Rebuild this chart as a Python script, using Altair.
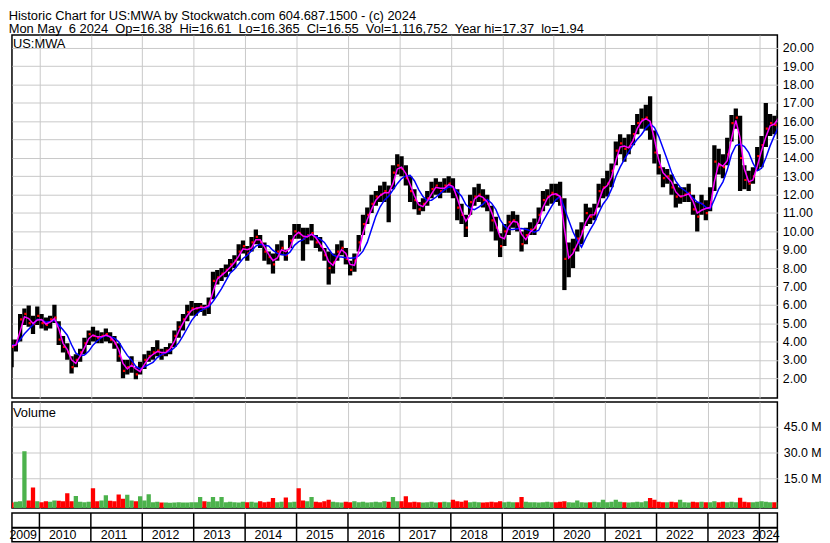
import altair as alt
import pandas as pd

FONT = "Liberation Sans"
HEADER = [
    "Historic Chart for US:MWA by Stockwatch.com 604.687.1500 - (c) 2024",
    "Mon May  6 2024  Op=16.38  Hi=16.61  Lo=16.365  Cl=16.55  Vol=1,116,752  Year hi=17.37  lo=1.94",
]
SYMBOL = "US:MWA"
VOLUME_TITLE = "Volume"
YEAR_LABELS = list(range(2009, 2025))
PRICE_TICKS = list(range(2, 21))
VOLUME_TICKS = [15, 30, 45]
X_DOMAIN = [2009.466, 2024.35]
PRICE_DOMAIN = [0.92, 20.70]
VOLUME_DOMAIN = [-2.4, 59.7]
START_YEAR, START_MONTH = 2009, 4

# monthly low / high / close (Apr 2009 .. May 2024)
LOW = [
    3.4, 3.5, 2.6, 3.45, 4.0, 4.9, 4.8, 4.4, 4.9,
    4.7, 4.6, 4.7, 5.0, 3.8, 3.4, 3.0, 2.25, 2.6, 2.9, 3.3, 3.8,
    4.0, 3.9, 3.9, 4.0, 3.9, 3.6, 2.9, 2.0, 2.2, 2.3, 1.94, 2.2,
    2.5, 2.9, 3.0, 3.2, 3.0, 3.2, 3.3, 3.7, 4.2, 4.6, 5.1, 5.4,
    5.4, 5.6, 5.4, 5.5, 6.3, 7.1, 7.3, 7.5, 7.8, 8.0, 8.4, 8.8,
    8.4, 8.9, 9.3, 9.1, 8.4, 8.2, 7.7, 8.4, 8.7, 8.4, 9.1, 9.6,
    9.6, 8.4, 9.3, 9.5, 9.1, 8.9, 8.4, 7.1, 7.7, 8.4, 8.7, 8.2,
    7.6, 7.8, 8.9, 9.8, 10.4, 11.0, 11.4, 11.6, 11.6, 10.5, 12.3, 13.1,
    13.0, 12.5, 11.6, 11.2, 10.9, 11.1, 11.4, 11.8, 12.0, 11.8, 12.1, 12.1,
    11.8, 10.6, 10.4, 9.7, 10.9, 11.4, 11.6, 11.3, 11.1, 10.0, 9.5, 8.6,
    9.2, 9.8, 10.2, 10.0, 8.9, 9.3, 9.8, 9.8, 10.4, 11.1, 11.4, 11.5,
    11.6, 11.4, 6.8, 7.5, 8.0, 8.9, 9.3, 10.3, 10.4, 10.6, 11.3, 11.8,
    11.9, 12.4, 13.6, 14.2, 13.8, 14.2, 14.7, 15.3, 15.6, 15.5, 15.0, 13.7,
    13.1, 12.4, 12.6, 12.0, 11.3, 11.5, 11.6, 11.6, 10.9, 10.0, 10.9, 10.6,
    11.1, 12.2, 13.1, 12.9, 13.6, 14.9, 15.6, 12.2, 12.3, 12.2, 12.6, 13.3,
    13.5, 14.6, 15.2, 15.3, 15.9,
]
HIGH = [
    4.3, 4.2, 4.1, 4.1, 5.5, 5.8, 5.96, 5.4, 5.9,
    5.5, 5.3, 5.4, 6.0, 5.1, 4.3, 3.9, 3.2, 3.3, 3.6, 4.2, 4.6,
    4.8, 4.6, 4.5, 4.7, 4.5, 4.3, 3.9, 3.0, 3.0, 3.2, 2.6, 2.9,
    3.3, 3.5, 3.7, 4.07, 3.6, 3.7, 3.9, 4.6, 5.1, 5.5, 6.0, 6.2,
    6.1, 6.1, 6.0, 6.4, 7.8, 7.9, 8.0, 8.2, 8.5, 8.7, 9.3, 9.5,
    9.2, 9.7, 10.1, 9.8, 9.4, 8.9, 8.8, 9.3, 9.5, 9.0, 9.8, 10.4,
    10.4, 10.2, 10.2, 10.4, 9.8, 9.7, 9.1, 8.9, 8.8, 9.3, 9.5, 9.1,
    8.4, 8.8, 9.8, 10.9, 11.3, 12.0, 12.2, 12.5, 12.7, 12.5, 13.6, 14.2,
    14.1, 13.6, 13.0, 12.3, 11.6, 11.8, 12.2, 12.7, 12.9, 12.7, 12.9, 13.0,
    12.9, 12.3, 11.5, 10.9, 12.0, 12.4, 12.6, 12.3, 12.0, 11.4, 10.8, 9.9,
    10.4, 10.9, 11.1, 10.9, 10.0, 10.2, 10.5, 10.7, 11.3, 12.2, 12.3, 12.6,
    12.6, 12.7, 11.8, 9.4, 9.6, 10.1, 10.5, 11.5, 11.3, 11.5, 12.6, 12.9,
    13.3, 13.7, 14.9, 15.3, 15.1, 15.3, 15.8, 16.4, 16.7, 16.9, 17.37, 15.5,
    14.2, 13.5, 13.4, 13.1, 12.6, 12.4, 12.4, 12.6, 12.0, 11.6, 12.0, 11.7,
    12.4, 14.7, 14.5, 14.2, 15.1, 16.35, 16.7, 16.3, 13.6, 13.3, 13.5, 14.6,
    15.2, 17.0, 16.4, 16.3, 16.61,
]
CLOSE = [
    3.9, 3.8, 3.7, 3.9, 5.2, 5.5, 5.0, 4.95, 5.4,
    5.0, 4.9, 5.2, 5.3, 4.1, 3.7, 3.4, 2.6, 3.0, 3.4, 3.9, 4.4,
    4.3, 4.2, 4.3, 4.4, 4.1, 3.9, 3.2, 2.4, 2.6, 2.8, 2.2, 2.5,
    3.0, 3.2, 3.4, 3.5, 3.3, 3.5, 3.7, 4.3, 4.8, 5.2, 5.6, 5.8,
    5.8, 5.9, 5.8, 6.1, 7.3, 7.5, 7.7, 7.9, 8.2, 8.4, 8.9, 9.2,
    8.8, 9.4, 9.7, 9.4, 8.9, 8.6, 8.2, 8.9, 9.1, 8.7, 9.5, 10.0,
    9.9, 9.6, 9.8, 9.9, 9.4, 9.2, 8.7, 8.0, 8.3, 8.9, 9.1, 8.5,
    7.9, 8.4, 9.4, 10.4, 10.9, 11.5, 11.9, 12.0, 12.2, 12.0, 13.2, 13.6,
    13.4, 12.9, 12.2, 11.7, 11.2, 11.5, 11.8, 12.3, 12.5, 12.2, 12.5, 12.6,
    12.3, 11.3, 10.9, 10.2, 11.6, 11.9, 12.0, 11.7, 11.5, 10.6, 10.2, 9.2,
    10.0, 10.5, 10.6, 10.4, 9.3, 9.8, 10.1, 10.2, 10.9, 11.7, 11.9, 12.1,
    12.0, 11.8, 8.5, 8.6, 9.0, 9.6, 10.0, 11.0, 10.8, 11.0, 12.2, 12.4,
    12.6, 13.3, 14.4, 14.8, 14.5, 14.6, 15.3, 15.9, 16.1, 16.2, 15.8, 14.3,
    13.5, 12.9, 13.0, 12.4, 11.9, 11.9, 12.0, 12.1, 11.2, 10.8, 11.5, 11.0,
    11.6, 13.8, 13.6, 13.5, 14.2, 15.9, 16.2, 14.0, 12.8, 12.6, 13.0, 14.1,
    14.7, 15.6, 15.9, 15.8, 16.55,
]
# monthly volume, millions
VOLUME = [
    0.8, 1.0, 0.9, 1.2, 1.5, 30.9, 2.0, 9.6, 1.5,
    1.0, 1.5, 1.2, 2.0, 1.8, 1.5, 6.3, 1.5, 4.6, 1.2, 1.0, 1.3,
    9.2, 1.5, 2.0, 5.0, 1.8, 1.5, 5.5, 3.0, 5.4, 2.0, 1.5, 4.5,
    2.0, 5.6, 1.0, 1.2, 0.9, 0.8, 0.7, 0.9, 1.0, 0.8, 0.9, 1.0,
    1.0, 4.0, 1.5, 1.2, 4.0, 1.5, 4.0, 1.0, 1.2, 1.0, 0.9, 1.3,
    1.0, 1.2, 0.8, 1.5, 1.0, 1.2, 3.5, 1.0, 1.2, 3.8, 1.0, 1.2,
    9.1, 2.0, 1.5, 4.0, 1.2, 1.0, 1.5, 2.5, 1.2, 1.0, 0.9, 1.2,
    1.0, 1.5, 1.0, 1.2, 0.9, 1.0, 1.2, 1.0, 1.5, 1.2, 4.0, 1.5,
    1.5, 4.5, 1.0, 1.2, 1.0, 0.9, 1.0, 1.2, 0.8, 1.0, 1.2, 1.0,
    2.5, 1.5, 1.2, 2.0, 1.0, 1.2, 1.0, 0.9, 1.0, 1.2, 1.0, 1.5,
    1.0, 1.2, 1.0, 1.0, 4.0, 1.2, 1.0, 1.0, 0.9, 1.0, 1.2, 1.0,
    1.0, 1.2, 1.5, 1.0, 0.9, 2.0, 1.0, 0.9, 1.0, 1.2, 1.0, 2.5,
    1.0, 1.2, 2.5, 1.2, 1.0, 0.9, 1.0, 1.2, 1.0, 1.5, 3.5, 2.5,
    1.2, 1.0, 1.0, 1.2, 1.0, 2.5, 1.0, 0.9, 1.2, 1.0, 1.2, 1.0,
    1.0, 1.5, 1.0, 1.2, 1.0, 1.2, 1.0, 3.6, 1.2, 1.0, 1.0, 1.2,
    1.5, 1.2, 1.0, 1.0, 1.0,
]

GRID = "#c8c8c8"
GREEN = "#4cb24c"
RED = "#ff0000"
W = 772

years, months = [], []
y, m = START_YEAR, START_MONTH
for _ in CLOSE:
    years.append(y)
    months.append(m)
    m += 1
    if m > 12:
        m, y = 1, y + 1

df = pd.DataFrame({"year": years, "month": months, "low": LOW, "high": HIGH,
                   "close": CLOSE, "volume": VOLUME})
df["t0"] = df["year"] + (df["month"] - 1) / 12
df["t1"] = df["year"] + df["month"] / 12
df["t"] = df["year"] + (df["month"] - 0.5) / 12

xscale = alt.Scale(domain=X_DOMAIN, nice=False, zero=False)
xaxis = alt.Axis(values=YEAR_LABELS[1:], grid=True, labels=False, ticks=False,
                 domain=False, title=None, gridColor=GRID, gridWidth=1)
pscale = alt.Scale(domain=PRICE_DOMAIN, nice=False, zero=False)
paxis = alt.Axis(orient="right", values=PRICE_TICKS, format=".2f", grid=True,
                 gridColor=GRID, gridWidth=1, ticks=False, domain=False, title=None,
                 labelFont=FONT, labelFontSize=12.5, labelColor="black",
                 labelPadding=5, labelOverlap=False, tickCount=len(PRICE_TICKS))
vscale = alt.Scale(domain=VOLUME_DOMAIN, nice=False, zero=False)
vaxis = alt.Axis(orient="right", values=VOLUME_TICKS, grid=True, gridColor=GRID,
                 gridWidth=1, ticks=False, domain=False, title=None,
                 labelExpr="format(datum.value, '.1f') + ' M'",
                 labelFont=FONT, labelFontSize=12.5, labelColor="black",
                 labelPadding=6, labelOverlap=False)

base = alt.Chart(df)
srt = [alt.SortField("t")]

bars = base.mark_rect(color="black", clip=True).encode(
    x=alt.X("t0:Q", scale=xscale, axis=xaxis), x2="t1:Q",
    y=alt.Y("low:Q", scale=pscale, axis=paxis), y2="high:Q")
dots = base.mark_square(color=RED, size=5, opacity=1, clip=True, xOffset=1).encode(
    x=alt.X("t:Q", scale=xscale, axis=xaxis), y=alt.Y("close:Q", scale=pscale, axis=paxis))
ma = base.transform_window(ma_fast="mean(close)", frame=[-1, 0], sort=srt) \
         .transform_window(ma_slow="mean(close)", frame=[-4, 0], sort=srt)
blue = ma.mark_line(color="#0000ff", strokeWidth=1.5, clip=True).encode(
    x=alt.X("t:Q", scale=xscale, axis=xaxis), y=alt.Y("ma_slow:Q", scale=pscale, axis=paxis))
magenta = ma.mark_line(color="#ff00ff", strokeWidth=1.5, clip=True).encode(
    x=alt.X("t:Q", scale=xscale, axis=xaxis), y=alt.Y("ma_fast:Q", scale=pscale, axis=paxis))
sym = alt.Chart(pd.DataFrame({"label": [SYMBOL]})).mark_text(
    align="left", baseline="alphabetic", font=FONT, fontSize=13, color="black").encode(
    x=alt.value(1), y=alt.value(13), text="label:N")

price = alt.layer(bars, dots, blue, magenta, sym).properties(width=W, height=366)

vol = base.transform_window(prev="lag(close)", sort=srt).transform_calculate(
    dir="datum.prev == null || datum.close >= datum.prev ? 'up' : 'down'")
vbars = vol.mark_rect(clip=True).encode(
    x=alt.X("t0:Q", scale=xscale, axis=xaxis), x2="t1:Q",
    y=alt.Y("volume:Q", scale=vscale, axis=vaxis), y2=alt.datum(VOLUME_DOMAIN[0]),
    color=alt.Color("dir:N", scale=alt.Scale(domain=["up", "down"], range=[GREEN, RED]),
                    legend=None))
vtitle = alt.Chart(pd.DataFrame({"label": [VOLUME_TITLE]})).mark_text(
    align="left", baseline="alphabetic", font=FONT, fontSize=13, color="black").encode(
    x=alt.value(1), y=alt.value(15), text="label:N")
volume = alt.layer(vbars, vtitle).properties(width=W, height=107)

ydf = pd.DataFrame({"year": YEAR_LABELS})
ydf["label"] = ydf["year"].astype(str)
ydf["mid"] = (ydf["year"].clip(lower=X_DOMAIN[0]) + (ydf["year"] + 1).clip(upper=X_DOMAIN[1])) / 2
bscale = alt.Scale(domain=[0, 29], nice=False, zero=False)
brules = alt.Chart(pd.DataFrame({"b": YEAR_LABELS[1:]})).mark_rule(
    color="black", strokeWidth=1.5).encode(x=alt.X("b:Q", scale=xscale, axis=None))
bmid = alt.Chart(pd.DataFrame({"k": [0]})).mark_rule(color="black", strokeWidth=2).encode(
    y=alt.Y(datum=14, scale=bscale, axis=None))
blabels = alt.Chart(ydf).mark_text(font=FONT, fontSize=12.5, color="black",
                                   baseline="middle", dx=-2.5).encode(
    x=alt.X("mid:Q", scale=xscale, axis=None),
    y=alt.Y(datum=6.5, scale=bscale, axis=None), text="label:N")
band = alt.layer(brules, bmid, blabels).properties(width=W, height=29)

header = [h.replace("  ", " \u00a0") for h in HEADER]
chart = alt.vconcat(price, volume, band, spacing=2).properties(
    padding=0,
    background="white",
    title=alt.TitleParams(text=header, anchor="start", font=FONT, fontSize=13,
                          fontWeight="normal", color="black", lineHeight=13, offset=-2),
).configure_view(stroke="black", strokeWidth=1.5)

chart.save("out.html", embed_options={"renderer": "svg", "actions": False})
